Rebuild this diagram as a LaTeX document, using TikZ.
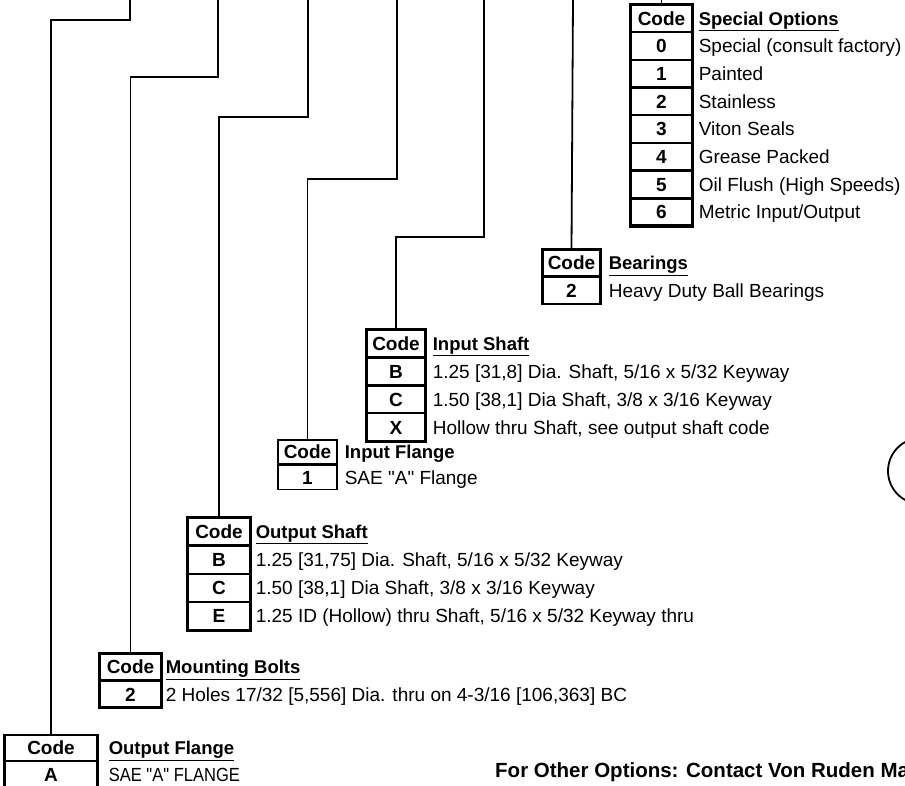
\documentclass[tikz,border=0pt]{standalone}
\usepackage{fontspec}
\setmainfont{Liberation Sans}
\newfontfamily\plainfont{Liberation Sans}
\newfontfamily\narrowfont[FakeStretch=0.87]{Liberation Sans}
\usetikzlibrary{positioning}

\tikzset{
  cell/.style={draw, line width=1.2pt, inner sep=0pt, text height=13.6pt, text depth=0pt,
    font=\plainfont\bfseries\fontsize{19}{22}\selectfont},
  desc/.style={anchor=west, inner sep=0pt, text height=13.6pt, text depth=0pt,
    font=\plainfont\fontsize{19}{22}\selectfont},
  head/.style={desc, font=\plainfont\bfseries\fontsize{18.5}{22}\selectfont},
  outerbox/.style={line width=3.2pt},
  wire/.style={line width=1.8pt},
  socell/.style={cell, minimum width=61pt, minimum height=26.5pt},
  brcell/.style={cell, minimum width=57pt, minimum height=26pt},
  iscell/.style={cell, minimum width=58pt, minimum height=26.75pt},
  ifcell/.style={cell, minimum width=59pt, minimum height=24pt},
  oscell/.style={cell, minimum width=62pt, minimum height=27pt},
  mbcell/.style={cell, minimum width=61pt, minimum height=26pt},
  ofcell/.style={cell, minimum width=92pt, minimum height=25pt},
}

\begin{document}
\begin{tikzpicture}[x=1pt,y=-1pt]
\useasboundingbox (0,0) rectangle (905,785);

% top ends of the wires
\coordinate (w1) at (130,0);
\coordinate (w2) at (218,0);
\coordinate (w3) at (308,0);
\coordinate (w4) at (397,0);
\coordinate (w5) at (484,0);
\coordinate (w6) at (573,0);
\coordinate (w7) at (661.5,0);

% special options
\node[socell] (so-h) at (661.5,18.25) {Code};
\node[socell, below=0pt of so-h] (so-0) {0};
\node[socell, below=0pt of so-0] (so-1) {1};
\node[socell, below=0pt of so-1] (so-2) {2};
\node[socell, below=0pt of so-2] (so-3) {3};
\node[socell, below=0pt of so-3] (so-4) {4};
\node[socell, below=0pt of so-4] (so-5) {5};
\node[socell, below=0pt of so-5] (so-6) {6};
\draw[outerbox] (so-h.north west) rectangle (so-6.south east);
\node[head, right=6pt of so-h] (so-t) {\underline{Special Options}};
\node[desc, right=6pt of so-0] (so-0d) {Special (consult factory)};
\node[desc, right=6pt of so-1] (so-1d) {Painted};
\node[desc, right=6pt of so-2] (so-2d) {Stainless};
\node[desc, right=6pt of so-3] (so-3d) {Viton Seals};
\node[desc, right=6pt of so-4] (so-4d) {Grease Packed};
\node[desc, right=6pt of so-5] (so-5d) {Oil Flush (High Speeds)};
\node[desc, right=6pt of so-6] (so-6d) {Metric Input/Output};

% bearings
\node[brcell] (br-h) at (571.5,263) {Code};
\node[brcell, below=0pt of br-h] (br-2) {2};
\draw[line width=2.2pt] (br-h.north west) rectangle (br-2.south east);
\node[head, right=8pt of br-h] (br-t) {\underline{Bearings}};
\node[desc, right=8pt of br-2] (br-2d) {Heavy Duty Ball Bearings};

% input shaft
\node[iscell] (is-h) at (396,343.4) {Code};
\node[iscell, below=0pt of is-h] (is-b) {B};
\node[iscell, below=0pt of is-b] (is-c) {C};
\node[iscell, below=0pt of is-c] (is-x) {X};
\draw[outerbox] (is-h.north west) rectangle (is-x.south east);
\node[head, right=7pt of is-h] (is-t) {\underline{Input Shaft}};
\node[desc, right=7pt of is-b] (is-bd) {1.25 [31,8] Dia. Shaft, 5/16 x 5/32 Keyway};
\node[desc, right=7pt of is-c] (is-cd) {1.50 [38,1] Dia Shaft, 3/8 x 3/16 Keyway};
\node[desc, right=7pt of is-x] (is-xd) {Hollow thru Shaft, see output shaft code};

% input flange
\node[ifcell] (if-h) at (307.5,452) {Code};
\node[ifcell, below=0pt of if-h] (if-1) {1};
\node[head, right=7pt of if-h] (if-t) {Input Flange};
\node[desc, right=7pt of if-1] (if-1d) {SAE "A" Flange};

% output shaft
\node[oscell] (os-h) at (219,531.5) {Code};
\node[oscell, below=0pt of os-h] (os-b) {B};
\node[oscell, below=0pt of os-b] (os-c) {C};
\node[oscell, below=0pt of os-c] (os-e) {E};
\draw[outerbox] (os-h.north west) rectangle (os-e.south east);
\node[head, right=5pt of os-h] (os-t) {\underline{Output Shaft}};
\node[desc, right=5pt of os-b] (os-bd) {1.25 [31,75] Dia. Shaft, 5/16 x 5/32 Keyway};
\node[desc, right=5pt of os-c] (os-cd) {1.50 [38,1] Dia Shaft, 3/8 x 3/16 Keyway};
\node[desc, right=5pt of os-e] (os-ed) {1.25 ID (Hollow) thru Shaft, 5/16 x 5/32 Keyway thru};

% mounting bolts
\node[mbcell] (mb-h) at (130.5,667) {Code};
\node[mbcell, below=0pt of mb-h] (mb-2) {2};
\draw[outerbox] (mb-h.north west) rectangle (mb-2.south east);
\node[head, right=4pt of mb-h] (mb-t) {\underline{Mounting Bolts}};
\node[desc, right=4pt of mb-2] (mb-2d) {2 Holes 17/32 [5,556] Dia. thru on 4-3/16 [106,363] BC};

% output flange
\node[ofcell] (of-h) at (51,748) {Code};
\node[ofcell, below=0pt of of-h] (of-a) {A};
\draw[line width=2pt] (of-h.north west) rectangle (of-a.south east);
\node[head, right=11pt of of-h] (of-t) {\underline{Output Flange}};
\node[desc, right=11pt of of-a, font=\narrowfont\fontsize{19}{22}\selectfont] (of-ad) {SAE "A" FLANGE};

% wires
\draw[wire] (w1) -- ++(0,20) -| (of-h.north);
\draw[wire] (w2) -- ++(0,77) -| (mb-h.north);
\draw[wire] (w3) -- ++(0,117) -| (os-h.north);
\draw[wire] (w4) -- ++(0,179) -| (if-h.north);
\draw[wire] (w5) -- ++(0,237) -| (is-h.north);
\draw[wire] (w6) -- (br-h.north);
\draw[wire] (w7) -- (so-h.north);

% note and callout
\node[anchor=base west, inner sep=0pt, font=\plainfont\bfseries\fontsize{20.5}{24}\selectfont] (note) at (495,777)
  {For Other Options: Contact Von Ruden Ma};
\draw[wire] (921,471) circle[radius=33pt];
\end{tikzpicture}
\end{document}
